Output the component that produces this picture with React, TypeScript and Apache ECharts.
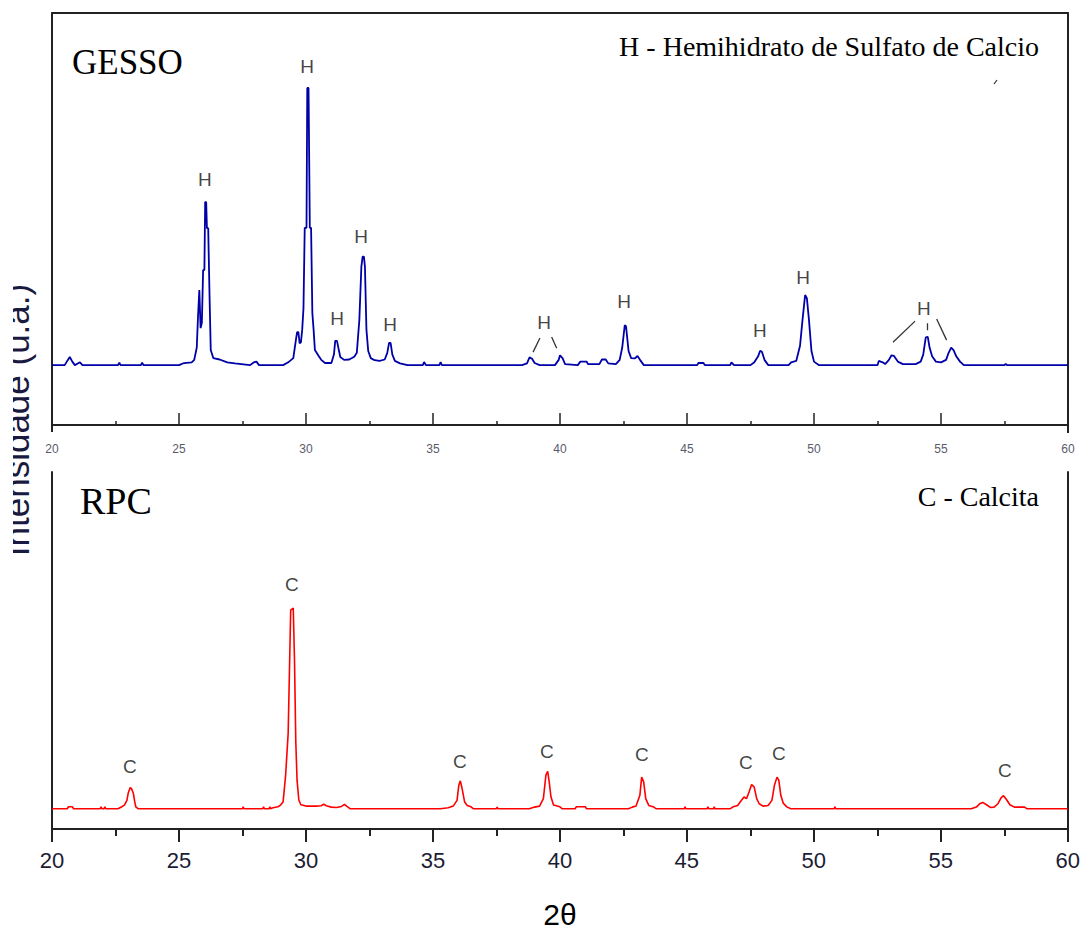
import React, { useEffect, useRef } from "react";
import * as echarts from "echarts";

// 2θ range and tick labels
const THETA_MIN = 20;
const THETA_MAX = 60;
const THETA_STEP = 5;

// GESSO (plaster) diffractogram: [2θ, intensity]
const gessoPattern: [number, number][] = [
  [20.0, 0], [20.5, 0], [20.6, 1.2], [20.7, 2.3], [20.8, 1.0], [20.9, 0], [21.1, 0.8], [21.2, 0],
  [22.6, 0], [22.65, 0.7], [22.7, 0], [23.5, 0], [23.55, 0.7], [23.6, 0],
  [25.0, 0], [25.2, 0.6], [25.5, 0.8], [25.6, 1.5], [25.7, 5], [25.75, 14], [25.8, 21.3], [25.85, 10.5],
  [25.9, 12], [25.95, 27], [26.0, 27], [26.03, 46.3], [26.07, 46.3], [26.1, 38.9], [26.15, 38.9],
  [26.2, 20.4], [26.25, 4.3], [26.35, 2.0], [26.6, 1.6], [26.9, 0.8], [27.2, 0.5], [27.8, 0],
  [27.95, 0.8], [28.05, 1.0], [28.15, 0], [29.1, 0], [29.3, 0.8], [29.5, 2], [29.6, 7], [29.65, 9.4],
  [29.7, 9.4], [29.75, 6.2], [29.8, 6.5], [29.85, 10], [29.9, 16], [29.95, 39], [30.02, 39],
  [30.05, 78.7], [30.1, 78.7], [30.15, 39], [30.2, 39], [30.25, 14.8], [30.3, 10], [30.35, 4.3],
  [30.5, 2.6], [30.6, 1.5], [30.75, 0.6], [31.0, 0.6], [31.1, 3], [31.15, 6.9], [31.22, 6.9],
  [31.3, 4], [31.35, 2.3], [31.5, 1.5], [31.7, 1.6], [31.9, 2.4], [32.0, 3.5], [32.1, 12.8],
  [32.18, 28], [32.23, 30.8], [32.28, 30.8], [32.32, 28], [32.38, 10], [32.45, 4], [32.55, 2.0],
  [32.7, 1.4], [32.9, 1.2], [33.1, 1.6], [33.2, 3.5], [33.27, 6.3], [33.33, 6.3], [33.4, 3],
  [33.5, 1.2], [33.7, 0.5], [34.0, 0], [34.6, 0], [34.65, 0.9], [34.72, 0], [35.25, 0], [35.3, 0.9],
  [35.35, 0], [38.5, 0], [38.7, 0.5], [38.8, 2.2], [38.9, 1.8], [39.0, 0.6], [39.2, 0], [39.8, 0],
  [39.95, 1.5], [40.0, 2.8], [40.1, 2.0], [40.2, 0.3], [40.7, 0], [40.8, 1], [41.05, 1], [41.1, 0.3],
  [41.55, 0.3], [41.65, 1.6], [41.8, 1.6], [41.9, 0.5], [42.2, 0.3], [42.35, 1.5], [42.45, 5],
  [42.55, 11.4], [42.6, 11.0], [42.7, 4], [42.8, 2.0], [42.95, 1.9], [43.05, 2.6], [43.15, 1.5],
  [43.3, 0], [45.4, 0], [45.45, 0.6], [45.65, 0.6], [45.7, 0], [46.7, 0], [46.75, 0.8], [46.85, 0],
  [47.5, 0], [47.65, 0.8], [47.8, 2.5], [47.88, 4.1], [47.95, 3.8], [48.05, 1.5], [48.2, 0],
  [49.0, 0], [49.1, 0.8], [49.3, 1.2], [49.45, 5.5], [49.55, 13], [49.65, 19.9], [49.72, 19.0],
  [49.8, 13], [49.9, 4], [50.0, 1], [50.2, 0], [52.5, 0], [52.55, 1.2], [52.7, 0.8], [52.8, 0.3],
  [52.95, 1.5], [53.05, 2.8], [53.15, 2.6], [53.3, 1.0], [53.5, 0.3], [54.0, 0.3], [54.2, 1],
  [54.3, 3], [54.4, 7.9], [54.48, 8.0], [54.55, 5], [54.65, 2.5], [54.8, 1], [55.0, 0.8], [55.2, 1.5],
  [55.3, 3.5], [55.4, 5.0], [55.5, 4.2], [55.6, 2.5], [55.75, 1.0], [55.9, 0], [57.5, 0], [57.55, 0.4],
  [57.6, 0], [60, 0],
];

// RPC diffractogram: [2θ, intensity]
const rpcPattern: [number, number][] = [
  [20, 0], [20.6, 0], [20.65, 0.6], [20.8, 0.6], [20.85, 0], [21.9, 0], [21.93, 0.6], [21.97, 0],
  [22.05, 0], [22.08, 0.6], [22.12, 0], [22.6, 0], [22.75, 0.6], [22.85, 1.1], [22.95, 2.5],
  [23.0, 4.6], [23.08, 6.3], [23.13, 6.0], [23.2, 4.7], [23.26, 2], [23.3, 0.6], [23.4, 0],
  [27.5, 0], [27.53, 0.6], [27.56, 0], [28.3, 0], [28.33, 0.6], [28.36, 0], [28.55, 0], [28.58, 0.6],
  [28.6, 0], [28.7, 0.3], [28.9, 0.6], [29.0, 1.1], [29.1, 2], [29.2, 10], [29.3, 22.4], [29.4, 59],
  [29.5, 59.6], [29.55, 44], [29.6, 20], [29.65, 8.5], [29.72, 2.6], [29.8, 1.2], [30.0, 0.8],
  [30.4, 0.8], [30.6, 0.9], [30.7, 1.4], [30.8, 0.9], [31.0, 0.5], [31.2, 0.4], [31.4, 0.7],
  [31.52, 1.3], [31.6, 0.8], [31.75, 0], [35.3, 0], [35.6, 0.3], [35.8, 0.8], [35.95, 2.5],
  [36.02, 7], [36.08, 8.3], [36.15, 6], [36.25, 2], [36.35, 1.0], [36.5, 0.6], [36.6, 0],
  [37.5, 0], [37.53, 0.5], [37.56, 0], [38.8, 0], [39.0, 0.5], [39.2, 0.8], [39.35, 3], [39.45, 10],
  [39.52, 11.1], [39.58, 8], [39.65, 3.5], [39.75, 1.1], [40.0, 0.6], [40.1, 0], [40.6, 0],
  [40.65, 0.6], [40.8, 0.6], [41.0, 0.6], [41.05, 0], [42.7, 0], [42.85, 0.5], [43.0, 0.8],
  [43.15, 4], [43.22, 9.4], [43.3, 8], [43.38, 3], [43.5, 1], [43.7, 0.5], [43.8, 0], [44.9, 0],
  [44.93, 0.6], [44.96, 0], [45.8, 0], [45.83, 0.6], [45.86, 0], [46.05, 0], [46.08, 0.6], [46.1, 0],
  [46.7, 0], [46.8, 0.5], [47.0, 1.0], [47.1, 2], [47.25, 3.5], [47.35, 3.0], [47.45, 5],
  [47.55, 7.2], [47.65, 6.5], [47.75, 3], [47.85, 1.5], [48.0, 0.8], [48.2, 1.0], [48.35, 2.5],
  [48.45, 7], [48.55, 9.4], [48.62, 8.5], [48.7, 4], [48.8, 1.6], [48.95, 0.5], [49.1, 0],
  [50.8, 0], [50.83, 0.6], [50.86, 0], [56.2, 0], [56.4, 0.5], [56.55, 1.6], [56.65, 1.9],
  [56.8, 1.2], [56.95, 0.4], [57.1, 0.5], [57.25, 1.5], [57.38, 3.3], [57.47, 3.9], [57.6, 2.6],
  [57.72, 1.2], [57.9, 0.5], [58.3, 0.5], [58.4, 0], [60, 0],
];

// Phase markers (position of the letter): [2θ, intensity]
const hMarkers: [number, number][] = [
  [26.02, 52.8], [30.04, 84.9], [31.22, 13.3], [32.17, 36.4], [33.31, 11.4],
  [39.37, 12.2], [42.52, 18.2], [47.87, 9.7], [49.57, 25.0], [54.33, 16.2],
];
const cMarkers: [number, number][] = [
  [23.07, 12.7], [29.45, 66.5], [36.06, 13.9], [39.49, 16.9], [43.23, 16.0],
  [47.32, 13.6], [48.62, 16.3], [57.52, 11.5],
];
// leader lines from the "H" markers to grouped peaks
const hLeaders: [number, number][][] = [
  [[38.94, 3.7], [39.21, 7.7]],
  [[39.67, 8.0], [39.87, 4.8]],
  [[53.11, 6.5], [53.98, 12.5]],
  [[54.44, 11.9], [54.44, 9.9]],
  [[54.83, 13.1], [55.22, 7.1]],
];

const SANS = '"Liberation Sans", Arial, sans-serif';
const SERIF = '"Liberation Serif", "Times New Roman", serif';
const AXIS_COLOR = "#222";

export default function App() {
  const ref = useRef<HTMLDivElement>(null);
  useEffect(() => {
    const chart = echarts.init(ref.current!, null, { renderer: "svg" });
    const frameLine = { show: true, onZero: false, lineStyle: { color: AXIS_COLOR, width: 2 } };
    const hiddenAxis = { axisTick: { show: false }, axisLabel: { show: false }, splitLine: { show: false } };
    const option: any = {
      animation: false,
      backgroundColor: "#fff",
      grid: [
        { left: 52, right: 15, top: 13, height: 412 },
        { left: 52, right: 15, top: 472, height: 357 },
      ],
      xAxis: [
        {
          gridIndex: 0, type: "value", min: THETA_MIN, max: THETA_MAX, interval: THETA_STEP,
          position: "bottom",
          axisLine: frameLine,
          axisTick: { show: true, inside: true, length: 12, lineStyle: { color: AXIS_COLOR, width: 1.5 } },
          minorTick: { show: true, splitNumber: 2, length: 4, lineStyle: { color: AXIS_COLOR, width: 1.5 } },
          axisLabel: { fontSize: 12, color: "#5a5a6a", fontFamily: SANS, margin: 18 },
          splitLine: { show: false },
        },
        {
          gridIndex: 0, type: "value", min: THETA_MIN, max: THETA_MAX, position: "top",
          axisLine: frameLine, ...hiddenAxis,
        },
        {
          gridIndex: 1, type: "value", min: THETA_MIN, max: THETA_MAX, interval: THETA_STEP,
          position: "bottom",
          axisLine: frameLine,
          axisTick: { show: true, inside: false, length: 13, lineStyle: { color: AXIS_COLOR, width: 2 } },
          minorTick: { show: true, splitNumber: 2, length: 7, lineStyle: { color: AXIS_COLOR, width: 2 } },
          axisLabel: { fontSize: 22, color: "#1c1c34", fontFamily: SANS, margin: 20 },
          splitLine: { show: false },
          name: "2θ", nameLocation: "middle", nameGap: 70,
          nameTextStyle: { fontSize: 30, color: "#000", fontFamily: SANS },
        },
      ],
      yAxis: [
        { gridIndex: 0, type: "value", min: -17, max: 100, position: "left", axisLine: frameLine, ...hiddenAxis },
        { gridIndex: 0, type: "value", min: -17, max: 100, position: "right", axisLine: frameLine, ...hiddenAxis },
        { gridIndex: 1, type: "value", min: -6, max: 100, position: "left", axisLine: frameLine, ...hiddenAxis },
        { gridIndex: 1, type: "value", min: -6, max: 100, position: "right", axisLine: frameLine, ...hiddenAxis },
      ],
      series: [
        {
          name: "GESSO", type: "line", xAxisIndex: 0, yAxisIndex: 0, data: gessoPattern,
          showSymbol: false, symbol: "none", lineStyle: { color: "#0000a8", width: 1.8 },
        },
        {
          name: "RPC", type: "line", xAxisIndex: 2, yAxisIndex: 2, data: rpcPattern,
          showSymbol: false, symbol: "none", lineStyle: { color: "#ff0000", width: 1.6 },
        },
        {
          type: "scatter", xAxisIndex: 0, yAxisIndex: 0, data: hMarkers, symbolSize: 1,
          itemStyle: { color: "rgba(0,0,0,0)" },
          label: { show: true, formatter: "H", position: "inside", fontSize: 19, color: "#111", fontFamily: SANS },
        },
        {
          type: "scatter", xAxisIndex: 2, yAxisIndex: 2, data: cMarkers, symbolSize: 1,
          itemStyle: { color: "rgba(0,0,0,0)" },
          label: { show: true, formatter: "C", position: "inside", fontSize: 19, color: "#111", fontFamily: SANS },
        },
        {
          type: "lines", coordinateSystem: "cartesian2d", xAxisIndex: 0, yAxisIndex: 0,
          data: hLeaders.map((c) => ({ coords: c })),
          lineStyle: { color: "#333", width: 1.3, opacity: 1 },
        },
      ],
      graphic: [
        { type: "line", shape: { x1: 52, y1: 424, x2: 52, y2: 432 }, style: { stroke: AXIS_COLOR, lineWidth: 2 } },
        { type: "line", shape: { x1: 1068, y1: 424, x2: 1068, y2: 433 }, style: { stroke: AXIS_COLOR, lineWidth: 2 } },
        { type: "line", shape: { x1: 994, y1: 84, x2: 997, y2: 80 }, style: { stroke: "#333", lineWidth: 1.2 } },
        {
          type: "text", x: 72, y: 62,
          style: { text: "GESSO", font: `35px ${SERIF}`, fill: "#000", textAlign: "left", textVerticalAlign: "middle" },
        },
        {
          type: "text", x: 80, y: 501,
          style: { text: "RPC", font: `38px ${SERIF}`, fill: "#000", textAlign: "left", textVerticalAlign: "middle" },
        },
        {
          type: "text", x: 1039, y: 46,
          style: { text: "H - Hemihidrato de Sulfato de Calcio", font: `28px ${SERIF}`, fill: "#000", textAlign: "right", textVerticalAlign: "middle" },
        },
        {
          type: "text", x: 1039, y: 496,
          style: { text: "C - Calcita", font: `28px ${SERIF}`, fill: "#000", textAlign: "right", textVerticalAlign: "middle" },
        },
        {
          type: "text", x: 34, y: 420, rotation: Math.PI / 2,
          style: { text: "Intensidade (u.a.)", font: `35px ${SANS}`, fill: "#1a1a40", textAlign: "center", textVerticalAlign: "bottom" },
        },
        { type: "rect", shape: { x: 0, y: 250, width: 13, height: 340 }, style: { fill: "#fff" }, z: 100 },
      ],
    };
    chart.setOption(option);
    return () => chart.dispose();
  }, []);
  return (
    <div
      ref={ref}
      style={{ position: "absolute", left: 0, top: 0, width: 1083, height: 932, background: "#fff" }}
    />
  );
}
